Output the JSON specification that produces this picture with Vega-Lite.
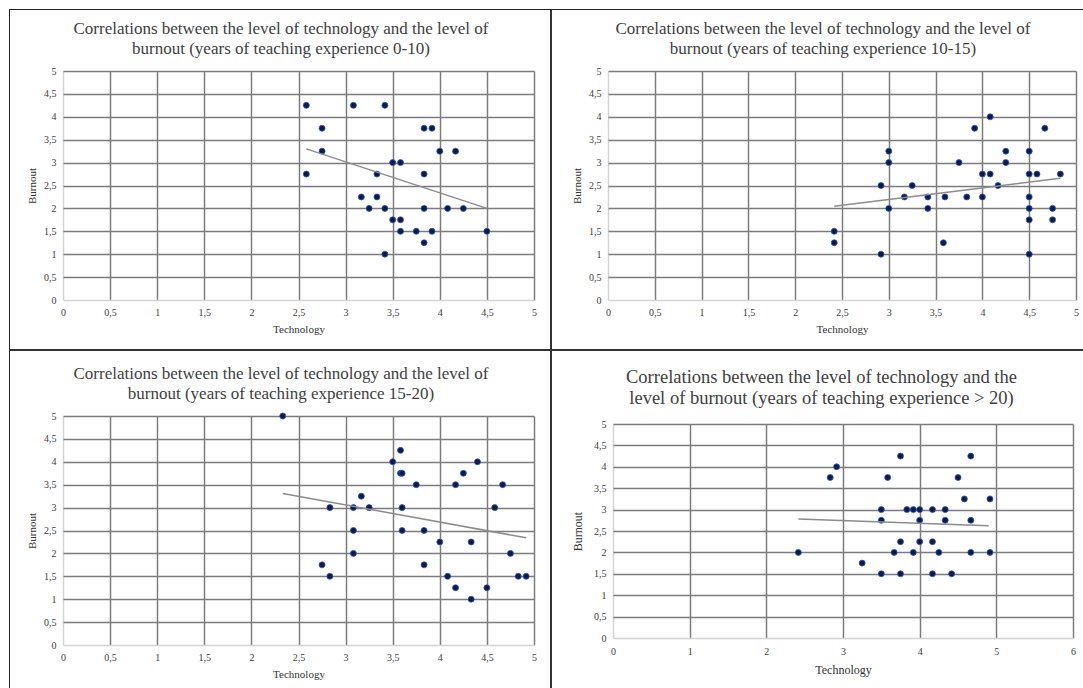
{
  "$schema": "https://vega.github.io/schema/vega-lite/v6.json",
  "background": "white",
  "padding": {"left": 9, "top": 9, "right": 0, "bottom": 0},
  "spacing": 0,
  "datasets": {
    "p1": [
      {"technology": 2.583, "burnout": 4.25}, {"technology": 3.083, "burnout": 4.25}, {"technology": 3.417, "burnout": 4.25},
      {"technology": 2.75, "burnout": 3.75}, {"technology": 3.833, "burnout": 3.75}, {"technology": 3.917, "burnout": 3.75},
      {"technology": 2.75, "burnout": 3.25}, {"technology": 4.0, "burnout": 3.25}, {"technology": 4.167, "burnout": 3.25},
      {"technology": 3.5, "burnout": 3.0}, {"technology": 3.583, "burnout": 3.0},
      {"technology": 2.583, "burnout": 2.75}, {"technology": 3.333, "burnout": 2.75}, {"technology": 3.833, "burnout": 2.75},
      {"technology": 3.167, "burnout": 2.25}, {"technology": 3.333, "burnout": 2.25},
      {"technology": 3.25, "burnout": 2.0}, {"technology": 3.417, "burnout": 2.0}, {"technology": 3.833, "burnout": 2.0}, {"technology": 4.083, "burnout": 2.0}, {"technology": 4.25, "burnout": 2.0},
      {"technology": 3.5, "burnout": 1.75}, {"technology": 3.583, "burnout": 1.75},
      {"technology": 3.583, "burnout": 1.5}, {"technology": 3.75, "burnout": 1.5}, {"technology": 3.917, "burnout": 1.5}, {"technology": 4.5, "burnout": 1.5},
      {"technology": 3.833, "burnout": 1.25},
      {"technology": 3.417, "burnout": 1.0}
    ],
    "t1": [{"technology": 2.583, "burnout": 3.3}, {"technology": 4.5, "burnout": 2.0}],
    "p2": [
      {"technology": 4.083, "burnout": 4.0}, {"technology": 3.917, "burnout": 3.75}, {"technology": 4.667, "burnout": 3.75},
      {"technology": 3.0, "burnout": 3.25}, {"technology": 4.25, "burnout": 3.25}, {"technology": 4.5, "burnout": 3.25},
      {"technology": 3.0, "burnout": 3.0}, {"technology": 3.75, "burnout": 3.0}, {"technology": 4.25, "burnout": 3.0},
      {"technology": 4.0, "burnout": 2.75}, {"technology": 4.083, "burnout": 2.75}, {"technology": 4.5, "burnout": 2.75}, {"technology": 4.583, "burnout": 2.75}, {"technology": 4.833, "burnout": 2.75},
      {"technology": 2.917, "burnout": 2.5}, {"technology": 3.25, "burnout": 2.5}, {"technology": 4.167, "burnout": 2.5},
      {"technology": 3.167, "burnout": 2.25}, {"technology": 3.417, "burnout": 2.25}, {"technology": 3.6, "burnout": 2.25}, {"technology": 3.833, "burnout": 2.25}, {"technology": 4.0, "burnout": 2.25}, {"technology": 4.5, "burnout": 2.25},
      {"technology": 3.0, "burnout": 2.0}, {"technology": 3.417, "burnout": 2.0}, {"technology": 4.5, "burnout": 2.0}, {"technology": 4.75, "burnout": 2.0},
      {"technology": 4.5, "burnout": 1.75}, {"technology": 4.75, "burnout": 1.75},
      {"technology": 2.417, "burnout": 1.5}, {"technology": 2.417, "burnout": 1.25}, {"technology": 3.583, "burnout": 1.25},
      {"technology": 2.917, "burnout": 1.0}, {"technology": 4.5, "burnout": 1.0}
    ],
    "t2": [{"technology": 2.417, "burnout": 2.045}, {"technology": 4.833, "burnout": 2.66}],
    "p3": [
      {"technology": 2.333, "burnout": 5.0}, {"technology": 3.583, "burnout": 4.25}, {"technology": 3.5, "burnout": 4.0}, {"technology": 4.4, "burnout": 4.0},
      {"technology": 3.583, "burnout": 3.75}, {"technology": 3.6, "burnout": 3.75}, {"technology": 4.25, "burnout": 3.75},
      {"technology": 3.75, "burnout": 3.5}, {"technology": 4.167, "burnout": 3.5}, {"technology": 4.667, "burnout": 3.5},
      {"technology": 3.167, "burnout": 3.25},
      {"technology": 2.833, "burnout": 3.0}, {"technology": 3.083, "burnout": 3.0}, {"technology": 3.25, "burnout": 3.0}, {"technology": 3.6, "burnout": 3.0}, {"technology": 4.583, "burnout": 3.0},
      {"technology": 3.083, "burnout": 2.5}, {"technology": 3.6, "burnout": 2.5}, {"technology": 3.833, "burnout": 2.5},
      {"technology": 4.0, "burnout": 2.25}, {"technology": 4.333, "burnout": 2.25},
      {"technology": 3.083, "burnout": 2.0}, {"technology": 4.75, "burnout": 2.0},
      {"technology": 2.75, "burnout": 1.75}, {"technology": 3.833, "burnout": 1.75},
      {"technology": 2.833, "burnout": 1.5}, {"technology": 4.083, "burnout": 1.5}, {"technology": 4.833, "burnout": 1.5}, {"technology": 4.917, "burnout": 1.5},
      {"technology": 4.167, "burnout": 1.25}, {"technology": 4.5, "burnout": 1.25},
      {"technology": 4.333, "burnout": 1.0}
    ],
    "t3": [{"technology": 2.333, "burnout": 3.31}, {"technology": 4.917, "burnout": 2.34}],
    "p4": [
      {"technology": 3.75, "burnout": 4.25}, {"technology": 4.667, "burnout": 4.25}, {"technology": 2.917, "burnout": 4.0},
      {"technology": 2.833, "burnout": 3.75}, {"technology": 3.583, "burnout": 3.75}, {"technology": 4.5, "burnout": 3.75},
      {"technology": 4.583, "burnout": 3.25}, {"technology": 4.917, "burnout": 3.25},
      {"technology": 3.5, "burnout": 3.0}, {"technology": 3.833, "burnout": 3.0}, {"technology": 3.917, "burnout": 3.0}, {"technology": 4.0, "burnout": 3.0}, {"technology": 4.167, "burnout": 3.0}, {"technology": 4.333, "burnout": 3.0},
      {"technology": 3.5, "burnout": 2.75}, {"technology": 4.0, "burnout": 2.75}, {"technology": 4.333, "burnout": 2.75}, {"technology": 4.667, "burnout": 2.75},
      {"technology": 3.75, "burnout": 2.25}, {"technology": 4.0, "burnout": 2.25}, {"technology": 4.167, "burnout": 2.25},
      {"technology": 2.417, "burnout": 2.0}, {"technology": 3.667, "burnout": 2.0}, {"technology": 3.917, "burnout": 2.0}, {"technology": 4.25, "burnout": 2.0}, {"technology": 4.667, "burnout": 2.0}, {"technology": 4.917, "burnout": 2.0},
      {"technology": 3.25, "burnout": 1.75},
      {"technology": 3.5, "burnout": 1.5}, {"technology": 3.75, "burnout": 1.5}, {"technology": 4.167, "burnout": 1.5}, {"technology": 4.417, "burnout": 1.5}
    ],
    "t4": [{"technology": 2.417, "burnout": 2.78}, {"technology": 4.9, "burnout": 2.62}]
  },
  "vconcat": [
    {"width": 1074, "height": 1, "data": {"values": [{}]}, "mark": {"type": "point", "size": 0, "opacity": 0, "strokeWidth": 0}, "view": {"fill": "#222222", "stroke": null}},
    {
      "spacing": 13,
      "hconcat": [
        {
          "spacing": 16,
          "hconcat": [
            {"width": 1, "height": 339, "data": {"values": [{}]}, "mark": {"type": "point", "size": 0, "opacity": 0, "strokeWidth": 0}, "view": {"fill": "#222222", "stroke": null}},
            {"spacing": 9, "vconcat": [
              {"width": 436, "height": 38, "data": {"values": [{}]}, "mark": {"type": "text", "text": ["Correlations between the level of technology and the level of", "burnout (years of teaching experience 0-10)"], "font": "Liberation Serif", "fontSize": 17, "lineHeight": 20, "color": "#404040", "align": "center", "baseline": "middle"}},
              {
                "width": 471, "height": 229,
                "encoding": {
                  "x": {"field": "technology", "type": "quantitative", "scale": {"domain": [0, 5], "nice": false}, "axis": {"values": [0, 0.5, 1, 1.5, 2, 2.5, 3, 3.5, 4, 4.5, 5], "title": "Technology"}},
                  "y": {"field": "burnout", "type": "quantitative", "scale": {"domain": [0, 5], "nice": false}, "axis": {"values": [0, 0.5, 1, 1.5, 2, 2.5, 3, 3.5, 4, 4.5, 5], "title": "Burnout"}}
                },
                "layer": [
                  {"data": {"name": "p1"}, "mark": {"type": "circle", "size": 36, "color": "#0d1b4c", "stroke": "#2f57b5", "strokeWidth": 0.8, "opacity": 1}},
                  {"data": {"name": "t1"}, "mark": {"type": "line", "color": "#8c8c8c", "strokeWidth": 1.5}}
                ]
              }
            ]}
          ]
        },
        {
          "spacing": 19,
          "hconcat": [
            {"width": 2, "height": 339, "data": {"values": [{}]}, "mark": {"type": "point", "size": 0, "opacity": 0, "strokeWidth": 0}, "view": {"fill": "#333333", "stroke": null}},
            {"spacing": 9, "vconcat": [
              {"width": 430, "height": 38, "data": {"values": [{}]}, "mark": {"type": "text", "text": ["Correlations between the level of technology and the level of", "burnout (years of teaching experience 10-15)"], "font": "Liberation Serif", "fontSize": 17, "lineHeight": 20, "color": "#404040", "align": "center", "baseline": "middle"}},
              {
                "width": 468, "height": 229,
                "encoding": {
                  "x": {"field": "technology", "type": "quantitative", "scale": {"domain": [0, 5], "nice": false}, "axis": {"values": [0, 0.5, 1, 1.5, 2, 2.5, 3, 3.5, 4, 4.5, 5], "title": "Technology"}},
                  "y": {"field": "burnout", "type": "quantitative", "scale": {"domain": [0, 5], "nice": false}, "axis": {"values": [0, 0.5, 1, 1.5, 2, 2.5, 3, 3.5, 4, 4.5, 5], "title": "Burnout"}}
                },
                "layer": [
                  {"data": {"name": "p2"}, "mark": {"type": "circle", "size": 36, "color": "#0d1b4c", "stroke": "#2f57b5", "strokeWidth": 0.8, "opacity": 1}},
                  {"data": {"name": "t2"}, "mark": {"type": "line", "color": "#8c8c8c", "strokeWidth": 1.5}}
                ]
              }
            ]}
          ]
        }
      ]
    },
    {"width": 1074, "height": 2, "data": {"values": [{}]}, "mark": {"type": "point", "size": 0, "opacity": 0, "strokeWidth": 0}, "view": {"fill": "#333333", "stroke": null}},
    {
      "spacing": 13,
      "hconcat": [
        {
          "spacing": 16,
          "hconcat": [
            {"width": 1, "height": 337, "data": {"values": [{}]}, "mark": {"type": "point", "size": 0, "opacity": 0, "strokeWidth": 0}, "view": {"fill": "#222222", "stroke": null}},
            {"spacing": 9, "vconcat": [
              {"width": 436, "height": 46, "data": {"values": [{}]}, "mark": {"type": "text", "text": ["Correlations between the level of technology and the level of", "burnout (years of teaching experience 15-20)"], "font": "Liberation Serif", "fontSize": 17, "lineHeight": 20, "color": "#404040", "align": "center", "baseline": "middle"}},
              {
                "width": 471, "height": 229,
                "encoding": {
                  "x": {"field": "technology", "type": "quantitative", "scale": {"domain": [0, 5], "nice": false}, "axis": {"values": [0, 0.5, 1, 1.5, 2, 2.5, 3, 3.5, 4, 4.5, 5], "title": "Technology"}},
                  "y": {"field": "burnout", "type": "quantitative", "scale": {"domain": [0, 5], "nice": false}, "axis": {"values": [0, 0.5, 1, 1.5, 2, 2.5, 3, 3.5, 4, 4.5, 5], "title": "Burnout"}}
                },
                "layer": [
                  {"data": {"name": "p3"}, "mark": {"type": "circle", "size": 36, "color": "#0d1b4c", "stroke": "#2f57b5", "strokeWidth": 0.8, "opacity": 1}},
                  {"data": {"name": "t3"}, "mark": {"type": "line", "color": "#8c8c8c", "strokeWidth": 1.5}}
                ]
              }
            ]}
          ]
        },
        {
          "spacing": 19,
          "hconcat": [
            {"width": 2, "height": 337, "data": {"values": [{}]}, "mark": {"type": "point", "size": 0, "opacity": 0, "strokeWidth": 0}, "view": {"fill": "#333333", "stroke": null}},
            {"spacing": 12, "vconcat": [
              {"width": 417, "height": 51, "data": {"values": [{}]}, "mark": {"type": "text", "text": ["Correlations between the level of technology and the", "level of burnout (years of teaching experience > 20)"], "font": "Liberation Serif", "fontSize": 18.5, "lineHeight": 21, "color": "#404040", "align": "center", "baseline": "middle"}},
              {
                "width": 460, "height": 214,
                "encoding": {
                  "x": {"field": "technology", "type": "quantitative", "scale": {"domain": [0, 6], "nice": false}, "axis": {"values": [0, 1, 2, 3, 4, 5, 6], "title": "Technology", "titleFontSize": 12, "labelPadding": 8, "titlePadding": 8}},
                  "y": {"field": "burnout", "type": "quantitative", "scale": {"domain": [0, 5], "nice": false}, "axis": {"values": [0, 0.5, 1, 1.5, 2, 2.5, 3, 3.5, 4, 4.5, 5], "title": "Burnout", "titleFontSize": 12, "titlePadding": 9}}
                },
                "layer": [
                  {"data": {"name": "p4"}, "mark": {"type": "circle", "size": 36, "color": "#0d1b4c", "stroke": "#2f57b5", "strokeWidth": 0.8, "opacity": 1}},
                  {"data": {"name": "t4"}, "mark": {"type": "line", "color": "#8c8c8c", "strokeWidth": 1.5}}
                ]
              }
            ]}
          ]
        }
      ]
    }
  ],
  "config": {
    "view": {"stroke": null},
    "font": "Liberation Serif",
    "axis": {
      "grid": true,
      "gridColor": {"condition": {"test": "datum.value === 0", "value": "#d4d4d4"}, "value": "#7c7c7c"},
      "gridWidth": 1.5, "domain": false, "ticks": false,
      "labelFont": "Liberation Serif", "labelFontSize": 10, "labelColor": "#404040", "labelPadding": 7,
      "labelFlush": false, "labelOverlap": false, "labelBound": false,
      "labelExpr": "replace(toString(datum.value), '.', ',')",
      "titleFont": "Liberation Serif", "titleFontSize": 11, "titleFontWeight": "normal", "titleColor": "#333333", "titlePadding": 6
    }
  }
}
